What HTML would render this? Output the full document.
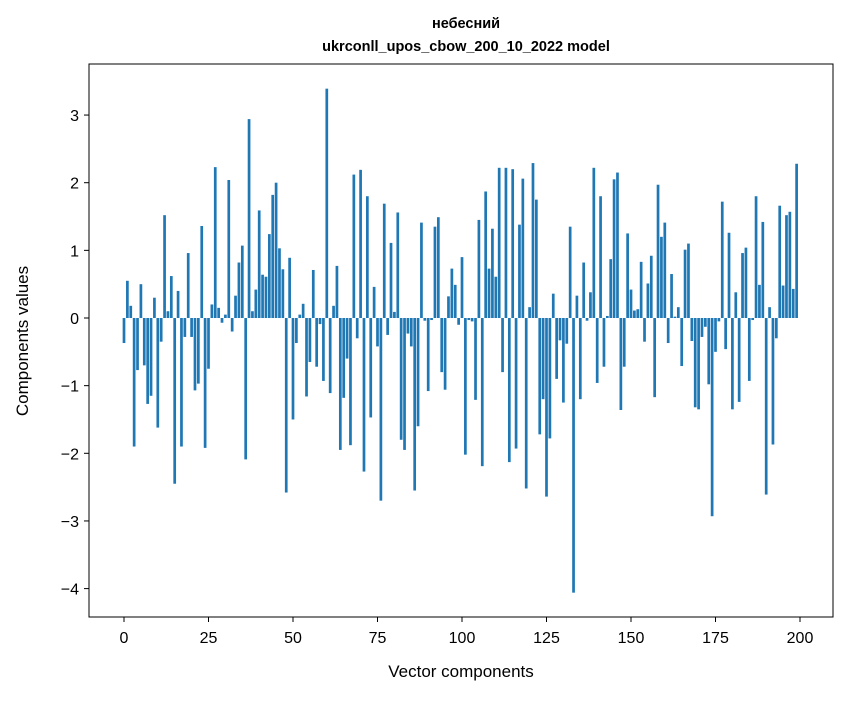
<!DOCTYPE html>
<html><head><meta charset="utf-8"><style>
body{margin:0;background:#fff;}
svg text{font-family:"Liberation Sans","DejaVu Sans",sans-serif;fill:#000;}
</style></head><body>
<svg width="847" height="696" xmlns="http://www.w3.org/2000/svg">
<g>
<text x="466" y="28" font-size="14.5" font-weight="bold" text-anchor="middle">небесний</text>
<text x="466" y="51" font-size="14.5" font-weight="bold" text-anchor="middle">ukrconll_upos_cbow_200_10_2022 model</text>
</g>
<g id="bars"></g>
<g id="axes"></g>
<rect x="89" y="64" width="744" height="553" fill="none" stroke="#000" stroke-width="1"/>
<text x="461" y="677" font-size="17" text-anchor="middle">Vector components</text>
<text transform="translate(28,341) rotate(-90)" font-size="17" text-anchor="middle">Components values</text>
</svg>
<script>
const values=[-0.37,0.55,0.18,-1.9,-0.77,0.5,-0.7,-1.27,-1.15,0.3,-1.62,-0.35,1.52,0.1,0.62,-2.45,0.4,-1.9,-0.28,0.96,-0.28,-1.07,-0.97,1.36,-1.92,-0.75,0.2,2.23,0.15,-0.07,0.05,2.04,-0.2,0.33,0.82,1.07,-2.09,2.94,0.1,0.42,1.59,0.64,0.61,1.24,1.82,2.0,1.03,0.72,-2.58,0.89,-1.5,-0.37,0.05,0.21,-1.16,-0.65,0.71,-0.72,-0.09,-0.93,3.39,-1.11,0.18,0.77,-1.95,-1.18,-0.6,-1.88,2.12,-0.3,2.19,-2.27,1.8,-1.47,0.46,-0.42,-2.7,1.69,-0.25,1.11,0.09,1.56,-1.8,-1.95,-0.23,-0.42,-2.55,-1.6,1.41,-0.04,-1.08,-0.03,1.35,1.49,-0.8,-1.06,0.32,0.73,0.49,-0.1,0.9,-2.02,-0.03,-0.05,-1.21,1.45,-2.19,1.87,0.73,1.32,0.61,2.22,-0.8,2.22,-2.13,2.2,-1.93,1.38,2.06,-2.52,0.16,2.29,1.75,-1.72,-1.2,-2.64,-1.78,0.36,-0.9,-0.33,-1.25,-0.38,1.35,-4.06,0.33,-1.2,0.82,-0.04,0.38,2.22,-0.96,1.8,-0.72,0.03,0.87,2.05,2.15,-1.36,-0.72,1.25,0.42,0.11,0.13,0.83,-0.35,0.51,0.92,-1.17,1.97,1.2,1.41,-0.37,0.65,0.02,0.16,-0.71,1.01,1.1,-0.34,-1.32,-1.35,-0.28,-0.13,-0.98,-2.93,-0.5,-0.05,1.72,-0.46,1.26,-1.35,0.38,-1.24,0.96,1.04,-0.93,-0.03,1.8,0.49,1.42,-2.61,0.16,-1.87,-0.3,1.66,0.48,1.52,1.57,0.43,2.28];
const xTicks=[0,25,50,75,100,125,150,175,200];
const yTicks=[-4,-3,-2,-1,0,1,2,3];
const NS="http://www.w3.org/2000/svg";
function xs(v){return 124+v*3.38;}
function ys(v){return 318-v*67.65;}
const bars=document.getElementById('bars');
values.forEach((v,i)=>{
  const r=document.createElementNS(NS,'rect');
  const w=0.8*3.38;
  r.setAttribute('x',xs(i)-w/2);
  r.setAttribute('width',w);
  r.setAttribute('y',Math.min(ys(v),ys(0)));
  r.setAttribute('height',Math.abs(ys(v)-ys(0)));
  r.setAttribute('fill','#1f77b4');
  
  
  bars.appendChild(r);
});
const axes=document.getElementById('axes');
xTicks.forEach(t=>{
  const l=document.createElementNS(NS,'line');
  l.setAttribute('x1',xs(t));l.setAttribute('x2',xs(t));l.setAttribute('y1',617);l.setAttribute('y2',622);l.setAttribute('stroke','#000');
  
  
  axes.appendChild(l);
  const tx=document.createElementNS(NS,'text');
  tx.setAttribute('x',xs(t));tx.setAttribute('y',643);tx.setAttribute('font-size','16');tx.setAttribute('text-anchor','middle');
  tx.textContent=t;
  
  
  axes.appendChild(tx);
});
yTicks.forEach(t=>{
  const l=document.createElementNS(NS,'line');
  l.setAttribute('x1',84);l.setAttribute('x2',89);l.setAttribute('y1',ys(t));l.setAttribute('y2',ys(t));l.setAttribute('stroke','#000');
  
  
  axes.appendChild(l);
  const tx=document.createElementNS(NS,'text');
  tx.setAttribute('x',79);tx.setAttribute('y',ys(t)+6);tx.setAttribute('font-size','16');tx.setAttribute('text-anchor','end');
  tx.textContent=t<0?'\u2212'+Math.abs(t):t;
  
  
  axes.appendChild(tx);
});
</script>
</body></html>
